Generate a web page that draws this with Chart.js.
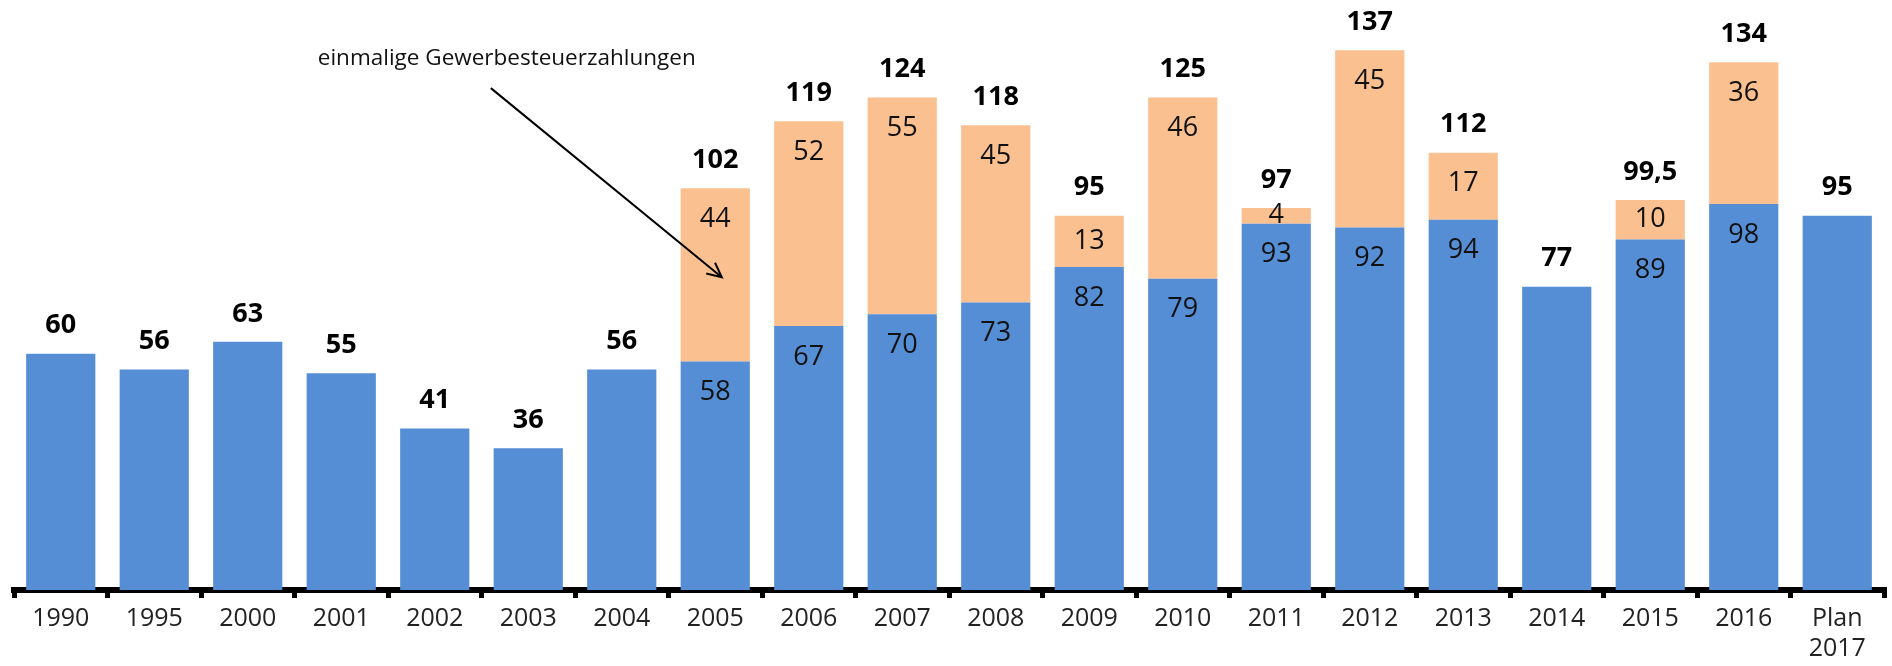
<!DOCTYPE html>
<html>
<head>
<meta charset="utf-8">
<script src="https://cdn.jsdelivr.net/npm/chart.js@4"></script>
<style>
  body { margin: 0; background: #fff; }
  #wrap { width: 1892px; height: 666px; }
</style>
</head>
<body>
<div id="wrap"><canvas id="myChart" width="1892" height="666"></canvas></div>
<script>
const categories = ['1990', '1995', '2000', '2001', '2002', '2003', '2004', '2005', '2006', '2007',
  '2008', '2009', '2010', '2011', '2012', '2013', '2014', '2015', '2016', ['Plan', '2017']];

// regular income (blue)
const regular = [60, 56, 63, 55, 41, 36, 56, 58, 67, 70, 73, 82, 79, 93, 92, 94, 77, 89, 98, 95];
// one-off trade tax payments (orange)
const oneTime = [null, null, null, null, null, null, null, 44, 52, 55, 45, 13, 46, 4, 45, 17, null, 10, 36, null];
// totals as printed above the bars
const totals = ['60', '56', '63', '55', '41', '36', '56', '102', '119', '124', '118', '95', '125', '97', '137', '112', '77', '99,5', '134', '95'];

const noteText = 'einmalige Gewerbesteuerzahlungen';

const FONT = '"Open Sans", "DejaVu Sans", sans-serif';

const labelPlugin = {
  id: 'barLabels',
  afterDatasetsDraw(chart) {
    const ctx = chart.ctx;
    const blue = chart.getDatasetMeta(0).data;
    const orange = chart.getDatasetMeta(1).data;
    ctx.save();
    ctx.textAlign = 'center';
    ctx.textBaseline = 'middle';
    for (let i = 0; i < categories.length; i++) {
      const b = blue[i];
      let top = b.y;
      if (oneTime[i] != null) {
        const o = orange[i];
        ctx.font = '27px ' + FONT;
        ctx.fillStyle = '#111';
        ctx.fillText(String(regular[i]), b.x, b.y + 31);
        const h = o.base - o.y;
        ctx.fillText(String(oneTime[i]), o.x, o.y + Math.min(31, h / 2));
        top = o.y;
      }
      ctx.font = 'bold 27px ' + FONT;
      ctx.fillStyle = '#000';
      ctx.fillText(totals[i], b.x, top - 28);
    }

    // annotation with arrow
    const xs = chart.scales.x, ys = chart.scales.y;
    const step = xs.getPixelForValue(1) - xs.getPixelForValue(0);
    const tx = xs.getPixelForValue(4) + 0.77 * step;
    const ty = ys.getPixelForValue(135);
    ctx.font = '22.5px ' + FONT;
    ctx.fillStyle = '#111';
    ctx.fillText(noteText, tx, ty);

    const x1 = xs.getPixelForValue(4) + 0.6 * step, y1 = ys.getPixelForValue(127.4);
    const x2 = xs.getPixelForValue(7) + 0.07 * step, y2 = ys.getPixelForValue(79.4);
    ctx.strokeStyle = '#000';
    ctx.lineWidth = 2;
    ctx.beginPath();
    ctx.moveTo(x1, y1);
    ctx.lineTo(x2, y2);
    const ang = Math.atan2(y2 - y1, x2 - x1);
    const len = 16;
    ctx.moveTo(x2 - len * Math.cos(ang - 0.45), y2 - len * Math.sin(ang - 0.45));
    ctx.lineTo(x2, y2);
    ctx.lineTo(x2 - len * Math.cos(ang + 0.45), y2 - len * Math.sin(ang + 0.45));
    ctx.stroke();
    ctx.restore();
  }
};

const data = {
  labels: categories,
  datasets: [{
    label: 'regulär',
    data: regular,
    backgroundColor: '#558ED5',
    barPercentage: 0.74,
    categoryPercentage: 1
  }, {
    label: 'einmalig',
    data: oneTime,
    backgroundColor: '#FAC090',
    barPercentage: 0.74,
    categoryPercentage: 1
  }]
};

const config = {
  type: 'bar',
  data: data,
  options: {
    responsive: false,
    animation: false,
    layout: { padding: { left: 14, right: 8, top: 7, bottom: 0 } },
    plugins: { legend: { display: false }, tooltip: { enabled: false } },
    scales: {
      x: {
        stacked: true,
        afterFit(scale) { scale.height = 76; },
        border: { display: true, color: '#000', width: 6 },
        grid: { drawOnChartArea: false, drawTicks: true, tickLength: 8, lineWidth: 5, color: '#000', offset: true },
        ticks: {
          color: '#222',
          font: { family: FONT, size: 25 },
          padding: 6,
          autoSkip: false,
          maxRotation: 0
        }
      },
      y: {
        stacked: true,
        display: false,
        min: 0,
        max: 148
      }
    }
  },
  plugins: [labelPlugin]
};

const myChart = new Chart(document.getElementById('myChart'), config);
</script>
</body>
</html>
